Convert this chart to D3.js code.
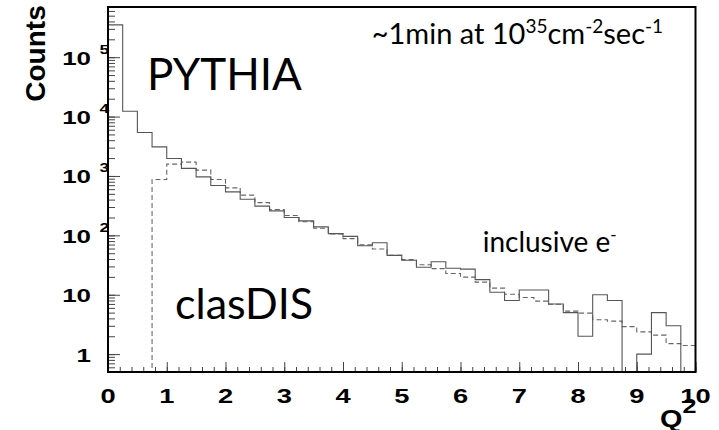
<!DOCTYPE html>
<html>
<head>
<meta charset="utf-8">
<script src="https://cdn.jsdelivr.net/npm/d3@7"></script>
<style>
  body { margin: 0; background: #fff; }
  svg { display: block; }
</style>
</head>
<body>
<svg id="chart" width="719" height="430"></svg>
<script>
// Q^2 binning (lower edges, width 0.25)
const binLow = [0, 0.25, 0.5, 0.75, 1, 1.25, 1.5, 1.75, 2, 2.25,
                2.5, 2.75, 3, 3.25, 3.5, 3.75, 4, 4.25, 4.5, 4.75,
                5, 5.25, 5.5, 5.75, 6, 6.25, 6.5, 6.75, 7, 7.25,
                7.5, 7.75, 8, 8.25, 8.5, 8.75, 9, 9.25, 9.5, 9.75];
const binWidth = 0.25;

// PYTHIA counts (solid histogram)
const pythiaCounts = [350000, 12300, 5400, 3090, 1970, 1340, 966, 692, 540, 405,
                      310, 258, 200, 175, 139, 107, 96, 67, 75, 46,
                      38, 29, 36, 28, 27, 18, 11, 8, 12, 12,
                      7, 5, 2, 10, 8, 0, 1, 5, 3, 0];

// clasDIS counts (dashed histogram)
const clasdisCounts = [0, 0, 0, 873, 1580, 1710, 1253, 870, 630, 475,
                       355, 273, 216, 169, 132, 106, 88, 69, 59, 46,
                       39, 32, 27.5, 22.8, 19.8, 16.3, 12.9, 10.2, 9.0, 7.8,
                       6.9, 5.3, 4.9, 3.8, 3.6, 2.9, 2.37, 2.09, 1.5, 1.4];

// Axis labels
const xTickValues = [0, 1, 2, 3, 4, 5, 6, 7, 8, 9, 10];
const yTickValues = [1, 10, 100, 1000, 10000, 100000];
const yTickBase   = ["1", "10", "10", "10", "10", "10"];
const yTickExp    = ["", "", "2", "3", "4", "5"];

const svg = d3.select("#chart");
const frame = { left: 108, right: 695.5, top: 7, bottom: 372 };

const x = d3.scaleLinear().domain([0, 10]).range([frame.left, frame.right]);
const y = d3.scaleLog().domain([0.5, 7e5]).range([frame.bottom, frame.top]);

const boldFont = "'Liberation Sans', Arial, Helvetica, sans-serif";
const textFont = "Lato, 'Open Sans', sans-serif";
const stretch = 1.4;

svg.append("rect").attr("width", 719).attr("height", 430).attr("fill", "#fff");

svg.append("defs").append("clipPath").attr("id", "plotClip")
  .append("rect")
  .attr("x", frame.left).attr("y", frame.top)
  .attr("width", frame.right - frame.left)
  .attr("height", frame.bottom - frame.top);

// Step outline of a histogram; empty bins fall to the lower edge of the frame
function stepPath(counts) {
  const pts = [[x(binLow[0]), frame.bottom]];
  counts.forEach((c, i) => {
    const yy = c > 0 ? y(c) : frame.bottom;
    pts.push([x(binLow[i]), yy], [x(binLow[i] + binWidth), yy]);
  });
  pts.push([x(binLow[binLow.length - 1] + binWidth), frame.bottom]);
  return d3.line()(pts);
}

const plot = svg.append("g").attr("clip-path", "url(#plotClip)");

plot.append("path")
  .attr("d", stepPath(clasdisCounts))
  .attr("fill", "none")
  .attr("stroke", "#666")
  .attr("stroke-width", 1.1)
  .attr("stroke-dasharray", "5,3");

plot.append("path")
  .attr("d", stepPath(pythiaCounts))
  .attr("fill", "none")
  .attr("stroke", "#555")
  .attr("stroke-width", 1.1);

// Inward ticks
const tickColor = "#444";
const xMinor = svg.append("g").attr("transform", `translate(0,${frame.bottom})`)
  .call(d3.axisBottom(x).tickValues(x.ticks(50)).tickSize(-5).tickFormat(""));
const xMajor = svg.append("g").attr("transform", `translate(0,${frame.bottom})`)
  .call(d3.axisBottom(x).tickValues(xTickValues).tickSize(-10).tickFormat(""));
const yMinor = svg.append("g").attr("transform", `translate(${frame.left},0)`)
  .call(d3.axisLeft(y).tickValues(y.ticks()).tickSize(-7).tickFormat(""));
const yMajor = svg.append("g").attr("transform", `translate(${frame.left},0)`)
  .call(d3.axisLeft(y).tickValues(yTickValues).tickSize(-12).tickFormat(""));
[xMinor, xMajor, yMinor, yMajor].forEach(g => {
  g.select(".domain").remove();
  g.selectAll("line").attr("stroke", tickColor).attr("stroke-width", 1);
});

// Frame
svg.append("rect")
  .attr("x", frame.left).attr("y", frame.top)
  .attr("width", frame.right - frame.left)
  .attr("height", frame.bottom - frame.top)
  .attr("fill", "none").attr("stroke", "#000").attr("stroke-width", 2);

// X tick labels
svg.append("g").selectAll("g").data(xTickValues).join("g")
  .attr("transform", d => `translate(${x(d)},403) scale(${stretch},1)`)
  .append("text")
  .attr("text-anchor", "middle")
  .attr("font-family", boldFont).attr("font-weight", "bold").attr("font-size", 19.5)
  .attr("fill", "#000")
  .text(d => d);

// Y tick labels (power-of-ten notation)
const yLab = svg.append("g").selectAll("g").data(yTickValues).join("g");
yLab.append("g")
  .attr("transform", d => `translate(91,${y(d) + 7.5}) scale(${stretch},1)`)
  .append("text")
  .attr("text-anchor", "end")
  .attr("font-family", boldFont).attr("font-weight", "bold").attr("font-size", 18.5)
  .attr("fill", "#000")
  .text((d, i) => yTickBase[i]);
yLab.append("g")
  .attr("transform", d => `translate(99.5,${y(d) - 3.5}) scale(${stretch},1)`)
  .append("text")
  .attr("text-anchor", "start")
  .attr("font-family", boldFont).attr("font-weight", "bold").attr("font-size", 12.5)
  .attr("fill", "#000")
  .text((d, i) => yTickExp[i]);

// Axis titles
svg.append("text")
  .attr("transform", "translate(44.5,53.5) rotate(-90)")
  .attr("text-anchor", "middle")
  .attr("font-family", boldFont).attr("font-weight", "bold").attr("font-size", 28)
  .attr("fill", "#000")
  .text("Counts");

const q2 = svg.append("g").attr("transform", `translate(660,426.5) scale(1.2,1)`)
  .append("text")
  .attr("font-family", boldFont).attr("font-weight", "bold").attr("font-size", 24)
  .attr("fill", "#000");
q2.append("tspan").text("Q");
q2.append("tspan").attr("dy", -14).attr("font-size", 21).text("2");

// Annotations
svg.append("text")
  .attr("x", 147).attr("y", 90)
  .attr("font-family", textFont).attr("font-size", 44).attr("fill", "#000")
  .text("PYTHIA");

svg.append("text")
  .attr("x", 175).attr("y", 319.3)
  .attr("font-family", textFont).attr("font-size", 43).attr("fill", "#000")
  .text("clasDIS");

const incl = svg.append("text")
  .attr("x", 482.7).attr("y", 252.3)
  .attr("font-family", textFont).attr("font-size", 28).attr("fill", "#000");
incl.append("tspan").text("inclusive e");
incl.append("tspan").attr("dy", -11).attr("font-size", 17).text("-");

const lumi = svg.append("text")
  .attr("x", 371.7).attr("y", 44.3)
  .attr("font-family", textFont).attr("font-size", 29).attr("fill", "#000");
lumi.append("tspan").text("~1min at 10");
lumi.append("tspan").attr("dy", -11.5).attr("font-size", 19).text("35");
lumi.append("tspan").attr("dy", 11.5).text("cm");
lumi.append("tspan").attr("dy", -11.5).attr("font-size", 19).text("-2");
lumi.append("tspan").attr("dy", 11.5).text("sec");
lumi.append("tspan").attr("dy", -11.5).attr("font-size", 19).text("-1");
</script>
</body>
</html>
